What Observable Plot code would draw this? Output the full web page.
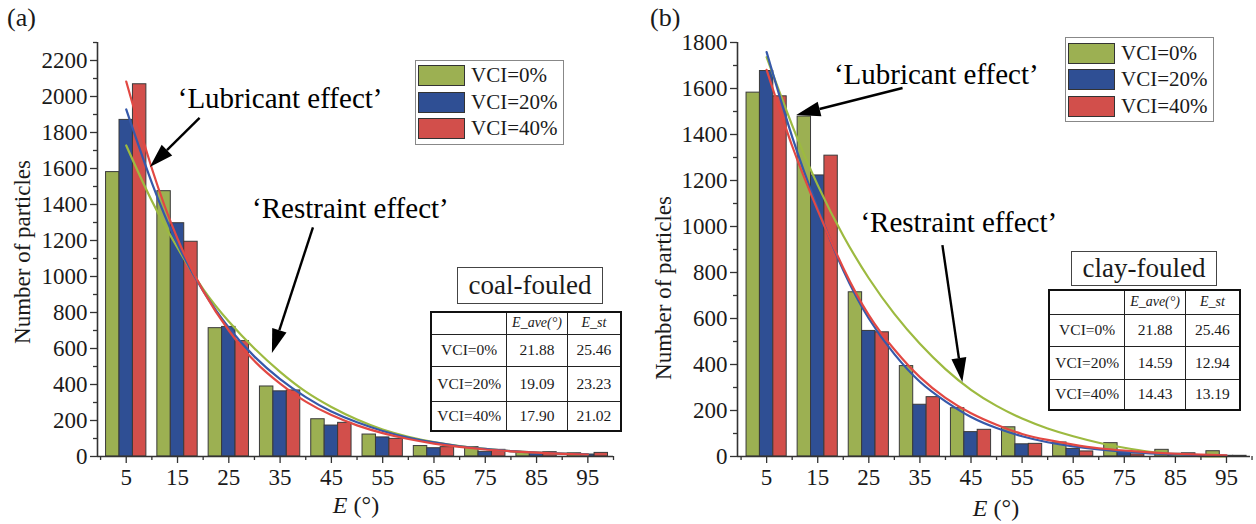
<!DOCTYPE html>
<html>
<head>
<meta charset="utf-8">
<script src="https://cdn.jsdelivr.net/npm/d3@7"></script>
<script src="https://cdn.jsdelivr.net/npm/@observablehq/plot@0.6"></script>
<style>
  body { margin: 0; background: #fff; }
  #fig { position: relative; width: 1256px; height: 524px; overflow: hidden; font-family: "Liberation Serif", "Times New Roman", serif; color: #1a1a1a; }
  .panel { position: absolute; top: 0; }
  .panel svg { overflow: visible; font-family: "Liberation Serif", serif !important; }
  .panel svg text, .panel svg g { font-family: "Liberation Serif", serif !important; }
  .ytitle { position: absolute; font-size: 23px; white-space: nowrap; transform: translate(-50%, -50%) rotate(-90deg); }
  .xtitle { position: absolute; font-size: 24px; white-space: nowrap; transform: translate(-50%, -50%); }
  .tag { position: absolute; font-size: 26px; }
  .legend { position: absolute; border: 1px solid #888; background: #fff; }
  .legend .row { position: absolute; left: 2px; height: 22px; display: flex; align-items: center; }
  .legend .sw { width: 47px; height: 21px; border: 1px solid #333; box-sizing: border-box; }
  .legend .lab { font-size: 21px; margin-left: 6px; line-height: 1; }
  .ttl { position: absolute; border: 1.5px solid #444; font-size: 27px; display: flex; align-items: center; justify-content: center; box-sizing: border-box; background: #fff; }
  table.st { position: absolute; border-collapse: collapse; border: 2px solid #111; font-size: 15.5px; background: #fff; }
  table.st td { border: 1px solid #222; text-align: center; padding: 0; }
  table.st td.h { font-style: italic; font-size: 14px; }
</style>
</head>
<body>
<div id="fig"></div>
<script>
// ---------------- data ----------------
const bins = [5, 15, 25, 35, 45, 55, 65, 75, 85, 95];
const seriesNames = ["VCI=0%", "VCI=20%", "VCI=40%"];
const barColors = ["#9cb052", "#2f4f94", "#d24f4b"];
const lineColors = ["#9dba40", "#3659aa", "#e24843"];

// (a) coal-fouled bar counts
const coalV0  = [1580, 1474, 713, 389, 207, 122, 58, 52, 24, 18];
const coalV20 = [1870, 1296, 720, 362, 172, 106, 46, 26, 17, 11];
const coalV40 = [2068, 1193, 641, 367, 187, 98, 52, 37, 24, 20];
// (b) clay-fouled bar counts
const clayV0  = [1582, 1478, 714, 393, 210, 127, 61, 58, 29, 23];
const clayV20 = [1676, 1222, 546, 225, 106, 53, 33, 23, 12, 3];
const clayV40 = [1566, 1308, 540, 258, 116, 55, 22, 9, 14, 3];

// fitted curves
const fitX = [5, 10, 15, 20, 25, 30, 35, 40, 45, 50, 55, 60, 65, 70, 75, 80, 85, 90, 95];
const coalFit0  = [1728, 1420, 1160, 930, 750, 600, 470, 360, 275, 205, 150, 110, 80, 58, 42, 30, 22, 16, 12];
const coalFit20 = [1928, 1520, 1180, 920, 715, 555, 430, 330, 250, 190, 142, 105, 78, 57, 42, 30, 22, 16, 12];
const coalFit40 = [2083, 1600, 1210, 920, 700, 530, 405, 305, 230, 173, 130, 97, 72, 53, 39, 29, 21, 15, 11];
const clayFit0  = [1736, 1440, 1180, 960, 775, 620, 490, 380, 290, 220, 165, 122, 88, 60, 38, 20, 8, 2, 0];
const clayFit20 = [1758, 1390, 1080, 810, 600, 445, 325, 240, 172, 124, 88, 62, 44, 31, 21, 14, 9, 6, 4];
const clayFit40 = [1681, 1350, 1070, 820, 615, 465, 345, 255, 188, 138, 98, 72, 52, 36, 26, 18, 12, 8, 5];

// statistics tables
const tableHeader = ["", "E_ave(°)", "E_st"];
const coalAve = [21.88, 19.09, 17.90];
const coalSt  = [25.46, 23.23, 21.02];
const clayAve = [21.88, 14.59, 14.43];
const claySt  = [25.46, 12.94, 13.19];

// annotations (data coordinates)
const coalNotes = [
  {label: "‘Lubricant effect’", x: 35, y: 1985, x1: 19.4, y1: 1878, x2: 9.7, y2: 1606},
  {label: "‘Restraint effect’", x: 48.7, y: 1378, x1: 41.5, y1: 1270, x2: 33.5, y2: 572}
];
const clayNotes = [
  {label: "‘Lubricant effect’", x: 38.2, y: 1661, x1: 31.7, y1: 1600, x2: 10.9, y2: 1483},
  {label: "‘Restraint effect’", x: 42.6, y: 1017, x1: 39.5, y1: 917, x2: 43.4, y2: 322}
];

// ---------------- helpers ----------------
const barW = 2.62;
function barRows(vals) {
  const rows = [];
  vals.forEach((arr, s) => arr.forEach((v, i) => {
    const c = bins[i] + (s - 1) * barW;
    rows.push({x1: c - barW / 2, x2: c + barW / 2, y: v, s});
  }));
  return rows;
}
function fitRows(fits) {
  const rows = [];
  fits.forEach((arr, s) => arr.forEach((v, i) => rows.push({x: fitX[i], y: v, s})));
  return rows;
}
function arrowMark(notes, headLen, headW) {
  return (index, scales) => {
    const g = d3.create("svg:g");
    for (const a of notes) {
      const x1 = scales.x(a.x1), y1 = scales.y(a.y1), x2 = scales.x(a.x2), y2 = scales.y(a.y2);
      const dx = x2 - x1, dy = y2 - y1, L = Math.hypot(dx, dy), ux = dx / L, uy = dy / L;
      const bx = x2 - ux * headLen, by = y2 - uy * headLen;
      g.append("line").attr("x1", x1).attr("y1", y1).attr("x2", bx).attr("y2", by)
        .attr("stroke", "#000").attr("stroke-width", 2.4);
      g.append("path").attr("d", `M${x2},${y2}L${bx - uy * headW / 2},${by + ux * headW / 2}L${bx + uy * headW / 2},${by - ux * headW / 2}Z`)
        .attr("fill", "#000");
    }
    return g.node();
  };
}

const fmt = d => String(d);
const FF = "Liberation Serif";
function panel({vals, fits, notes, xDomain, yTop, yLabelStep, marginLeft, marginRight}) {
  const yMajor = d3.range(0, yTop + 1, yLabelStep).filter(v => v <= yTop);
  const yMinor = d3.range(yLabelStep / 2, yTop + 1, yLabelStep).filter(v => v <= yTop);
  return Plot.plot({
    width: 628, height: 524,
    marginLeft, marginRight, marginTop: 42, marginBottom: 68,
    style: {fontFamily: FF, fontSize: "23px", color: "#1a1a1a", background: "transparent"},
    x: {domain: xDomain, axis: null},
    y: {domain: [0, yTop], axis: null},
    marks: [
      Plot.rectY(barRows(vals), {x1: "x1", x2: "x2", y: "y", fill: d => barColors[d.s], stroke: "#3a3a3a", strokeWidth: 1}),
      Plot.line(fitRows(fits), {x: "x", y: "y", z: "s", stroke: d => lineColors[d.s], strokeWidth: 2.2, curve: "natural"}),
      Plot.axisY({ticks: yMajor, tickSize: 7, tickPadding: 3, fontSize: 23, fontFamily: FF, fill: "#1a1a1a", stroke: "#333", strokeWidth: 1.3, tickFormat: fmt, label: null}),
      Plot.axisY({ticks: yMinor, tickSize: 4, tickFormat: () => "", stroke: "#333", strokeWidth: 1.3, label: null}),
      Plot.axisX({ticks: bins, tickSize: 7, tickPadding: 5, fontSize: 23, fontFamily: FF, fill: "#1a1a1a", stroke: "#333", strokeWidth: 1.3, tickFormat: fmt, label: null}),
      Plot.axisX({ticks: d3.range(0, 101, 10), tickSize: 4, tickFormat: () => "", stroke: "#333", strokeWidth: 1.3, label: null}),
      Plot.ruleX([xDomain[0]], {stroke: "#333", strokeWidth: 1.6}),
      Plot.ruleY([0], {stroke: "#333", strokeWidth: 1.6}),
      Plot.text(notes, {x: "x", y: "y", text: "label", fontSize: 29, fontFamily: FF, fill: "#000", textAnchor: "middle", lineAnchor: "middle"}),
      arrowMark(notes, 24, 15)
    ]
  });
}

// ---------------- build ----------------
const fig = document.getElementById("fig");
function add(el, css) { Object.assign(el.style, css || {}); fig.appendChild(el); return el; }
function div(cls, text, css) { const d = document.createElement("div"); d.className = cls; if (text != null) d.textContent = text; return add(d, css); }

const left = div("panel", null, {left: "0px"});
left.appendChild(panel({
  vals: [coalV0, coalV20, coalV40], fits: [coalFit0, coalFit20, coalFit40], notes: coalNotes,
  xDomain: [-0.6, 100], yTop: 2300, yLabelStep: 200, marginLeft: 97, marginRight: 15
}));
const right = div("panel", null, {left: "628px"});
right.appendChild(panel({
  vals: [clayV0, clayV20, clayV40], fits: [clayFit0, clayFit20, clayFit40], notes: clayNotes,
  xDomain: [-0.7, 99.7], yTop: 1800, yLabelStep: 200, marginLeft: 109, marginRight: 6
}));

// titles
div("tag", "(a)", {left: "7px", top: "3px"});
div("tag", "(b)", {left: "650px", top: "3px"});
div("ytitle", "Number of particles", {left: "23px", top: "252px"});
div("ytitle", "Number of particles", {left: "664px", top: "288px"});
function xTitle(x, y) {
  const d = div("xtitle", null, {left: x + "px", top: y + "px"});
  d.innerHTML = "<i>E</i> (°)";
}
xTitle(356, 505);
xTitle(996, 508);

// legends
function legend(x, y, rowTops) {
  const box = div("legend", null, {left: x + "px", top: y + "px", width: "147px", height: "83px"});
  seriesNames.forEach((n, i) => {
    const r = document.createElement("div"); r.className = "row"; r.style.top = rowTops[i] + "px";
    const sw = document.createElement("div"); sw.className = "sw"; sw.style.background = barColors[i];
    const lb = document.createElement("div"); lb.className = "lab"; lb.textContent = n;
    r.appendChild(sw); r.appendChild(lb); box.appendChild(r);
  });
}
legend(415, 60, [3, 30, 56]);
legend(1065, 37, [4, 30, 57]);

// stats tables
function statTable(title, tBox, tab, ave, st) {
  div("ttl", title, {left: tBox[0] + "px", top: tBox[1] + "px", width: tBox[2] + "px", height: tBox[3] + "px"});
  const t = document.createElement("table"); t.className = "st";
  Object.assign(t.style, {left: tab.x + "px", top: tab.y + "px", width: tab.w + "px", height: tab.h + "px"});
  const hr = t.insertRow(); hr.style.height = tab.rows[0] + "px";
  tableHeader.forEach((h, j) => {
    const c = hr.insertCell(); c.className = "h"; c.style.width = tab.cols[j] + "px";
    if (h) c.textContent = h;
  });
  seriesNames.forEach((n, i) => {
    const r = t.insertRow(); r.style.height = tab.rows[i + 1] + "px";
    r.insertCell().textContent = n;
    r.insertCell().textContent = ave[i].toFixed(2);
    r.insertCell().textContent = st[i].toFixed(2);
  });
  fig.appendChild(t);
}
statTable("coal-fouled", [457, 267, 146, 37], {x: 430, y: 311, w: 192, h: 119, cols: [76, 61, 55], rows: [22, 32, 35, 30]}, coalAve, coalSt);
statTable("clay-fouled", [1071, 251, 146, 35], {x: 1048, y: 289, w: 193, h: 120, cols: [76, 61, 56], rows: [24, 32, 33, 31]}, clayAve, claySt);
</script>
</body>
</html>
